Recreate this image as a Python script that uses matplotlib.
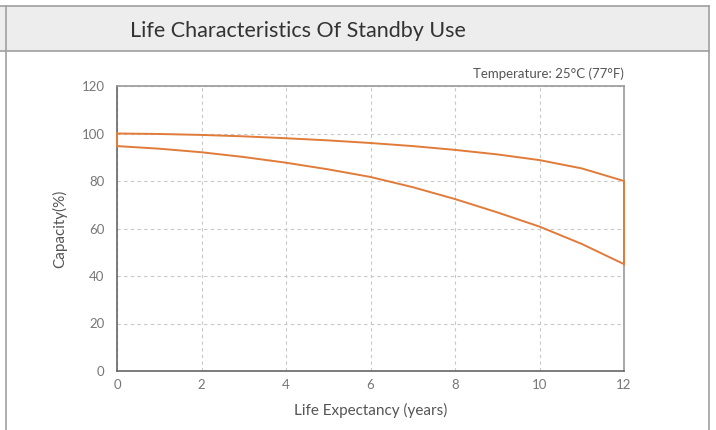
import matplotlib.pyplot as plt
from matplotlib.lines import Line2D
from matplotlib.patches import Rectangle

plt.rcParams['font.family'] = ['Lato', 'DejaVu Sans']

# life expectancy (years) and capacity (%)
years = [0, 1, 2, 3, 4, 5, 6, 7, 8, 9, 10, 11, 12]
upper = [100, 99.8, 99.4, 98.8, 98.0, 97.1, 96.0, 94.7, 93.1, 91.2, 88.8, 85.3, 80]
lower = [94.7, 93.6, 92.1, 90.1, 87.7, 84.9, 81.7, 77.4, 72.4, 66.8, 60.8, 53.5, 45]
xticks = [0, 2, 4, 6, 8, 10, 12]
yticks = [0, 20, 40, 60, 80, 100, 120]

orange = '#e07b39'
txt = '#555555'

fig = plt.figure(figsize=(7.16, 4.30), dpi=100)

# title bar and frame
fig.patches.append(Rectangle((0, 1 - 51 / 430), 709 / 716, 45 / 430, transform=fig.transFigure,
                             facecolor='#ededed', edgecolor='none', zorder=0))
for yy in [1 - 6 / 430, 1 - 51 / 430]:
    fig.lines.append(Line2D([0, 709 / 716], [yy, yy], transform=fig.transFigure, color='#a0a0a0', lw=1.2))
for xx in [6 / 716, 709 / 716]:
    fig.lines.append(Line2D([xx, xx], [0, 1 - 6 / 430], transform=fig.transFigure, color='#a0a0a0', lw=1.2))
fig.text(130 / 716, 1 - 31 / 430, 'Life Characteristics Of Standby Use', fontsize=15.5,
         color='#333333', ha='left', va='center')

ax = fig.add_axes([117 / 716, 1 - 371 / 430, (624 - 117) / 716, (371 - 86) / 430])

# closed outline: upper curve, down at 12 years, lower curve back, up at 0
xs = years + years[::-1] + [years[0]]
ys = upper + lower[::-1] + [upper[0]]
ax.plot(xs, ys, color=orange, lw=1.4, solid_joinstyle='miter', clip_on=False, zorder=3)

ax.set_xlim(0, 12)
ax.set_ylim(0, 120)
ax.set_xticks(xticks)
ax.set_yticks(yticks)
ax.grid(True, color='#c8c8c8', linestyle=(0, (3, 3)), lw=0.8)
ax.tick_params(length=0, colors='#777777', labelsize=9.5, pad=9)
ax.tick_params(axis='x', pad=6)
for s in ['left', 'bottom']:
    ax.spines[s].set_color('#666666')
    ax.spines[s].set_linewidth(1.2)
for s in ['top', 'right']:
    ax.spines[s].set_color('#999999')
    ax.spines[s].set_linewidth(1.2)

ax.set_xlabel('Life Expectancy (years)', fontsize=11, color=txt, labelpad=8)
ax.set_ylabel('Capacity(%)', fontsize=11, color=txt, labelpad=10)
ax.text(1.0, 1.02, 'Temperature: 25°C (77°F)', transform=ax.transAxes, ha='right',
        va='bottom', fontsize=9.5, color=txt)

fig.savefig('out.png', dpi=100)
